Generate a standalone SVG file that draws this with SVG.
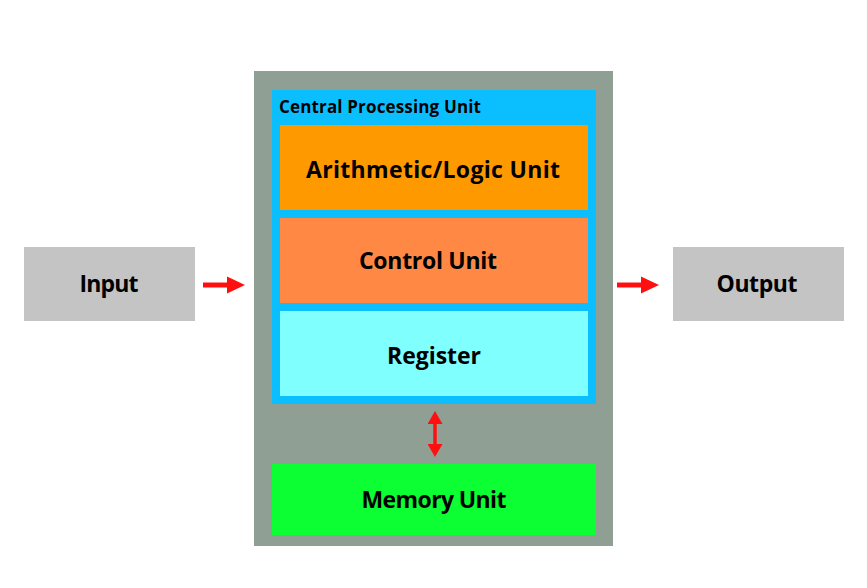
<svg xmlns="http://www.w3.org/2000/svg" width="867" height="588" viewBox="0 0 867 588">
<style>
  .lbl { font-family: "Open Sans", "Liberation Sans", sans-serif; font-weight: 700; fill: #000; text-anchor: middle; }
  .big { font-size: 23px; }
  .small { font-size: 17px; text-anchor: start; }
  .arrow { stroke: #FF1010; fill: none; }
</style>
<defs>
  <marker id="headBig" markerUnits="userSpaceOnUse" markerWidth="18" markerHeight="18" refX="0" refY="8.5" orient="auto" viewBox="0 0 18 17">
    <path d="M0,0 L18,8.5 L0,17 Z" fill="#FF1010"/>
  </marker>
  <marker id="headSmall" markerUnits="userSpaceOnUse" markerWidth="13" markerHeight="15" refX="0" refY="7.5" orient="auto-start-reverse" viewBox="0 0 13 15">
    <path d="M0,0 L13,7.5 L0,15 Z" fill="#FF1010"/>
  </marker>
</defs>
<rect width="867" height="588" fill="#FFFFFF"/>
<g id="computer">
  <rect x="254" y="71" width="359" height="475" fill="#909F94"/>
</g>
<g id="cpu">
  <rect x="272" y="90" width="324" height="314" fill="#0BBFFF"/>
  <text class="lbl small" x="279" y="113" textLength="202">Central Processing Unit</text>
</g>
<g id="alu">
  <rect x="280" y="125" width="308" height="85" fill="#FF9900"/>
  <text class="lbl big" x="433" y="178" textLength="254">Arithmetic/Logic Unit</text>
</g>
<g id="control">
  <rect x="280" y="218" width="308" height="85" fill="#FF8844"/>
  <text class="lbl big" x="428" y="269" textLength="138">Control Unit</text>
</g>
<g id="register">
  <rect x="280" y="311" width="308" height="85" fill="#80FFFF"/>
  <text class="lbl big" x="434" y="364" textLength="94">Register</text>
</g>
<g id="memory">
  <rect x="272" y="464" width="324" height="71" fill="#0BFF32"/>
  <text class="lbl big" x="434" y="508" textLength="145">Memory Unit</text>
</g>
<g id="input">
  <rect x="24" y="247" width="171" height="74" fill="#C4C4C4"/>
  <text class="lbl big" x="109" y="292" textLength="59">Input</text>
</g>
<g id="output">
  <rect x="673" y="247" width="171" height="74" fill="#C4C4C4"/>
  <text class="lbl big" x="757" y="292" textLength="81">Output</text>
</g>
<g id="connectors">
  <line class="arrow" x1="203" y1="285" x2="227" y2="285" stroke-width="5" marker-end="url(#headBig)"/>
  <line class="arrow" x1="617" y1="285" x2="641" y2="285" stroke-width="5" marker-end="url(#headBig)"/>
  <line class="arrow" x1="435" y1="424" x2="435" y2="444" stroke-width="3.5" marker-start="url(#headSmall)" marker-end="url(#headSmall)"/>
</g>
</svg>
